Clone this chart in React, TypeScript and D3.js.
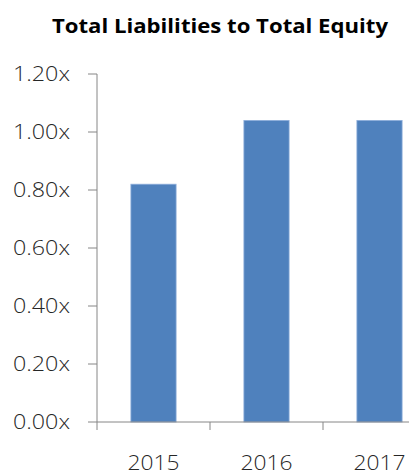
import React from "react";
import * as d3 from "d3";

const years = ["2015", "2016", "2017"];
const ratios = [0.82, 1.04, 1.04];
const yTicks = [0, 0.2, 0.4, 0.6, 0.8, 1.0, 1.2];
const title = "Total Liabilities to Total Equity";

const W = 409;
const H = 475;
const axisX = 97;
const bandW = 113;
const y0 = 422;
const yTop = 74;

export default function App() {
  const x = d3
    .scaleBand<string>()
    .domain(years)
    .range([axisX, axisX + bandW * years.length])
    .paddingInner(0.6)
    .paddingOuter(0.3);
  const y = d3.scaleLinear().domain([0, 1.2]).range([y0, yTop]);
  const fmt = (v: number) => d3.format(".2f")(v) + "x";
  const font = "'Open Sans', 'Liberation Sans', sans-serif";
  const axisColor = "#868686";

  return (
    <svg
      width={W}
      height={H}
      style={{ position: "absolute", left: 0, top: 0, display: "block" }}
      fontFamily={font}
    >
      <rect width={W} height={H} fill="#ffffff" />
      <text
        x={220}
        y={33}
        textAnchor="middle"
        fontSize={19}
        fontWeight="bold"
        fill="#000"
        textLength={336}
        lengthAdjust="spacingAndGlyphs"
      >
        {title}
      </text>

      {/* bars */}
      {years.map((yr, i) => (
        <rect
          key={yr}
          x={x(yr)!}
          y={y(ratios[i])}
          width={x.bandwidth()}
          height={y0 - y(ratios[i])}
          fill="#4F81BD"
          stroke="#8EAEDB"
          strokeWidth={0.8}
        />
      ))}

      {/* y axis */}
      <line x1={axisX} x2={axisX} y1={yTop} y2={y0} stroke={axisColor} strokeWidth={1} />
      {yTicks.map((t) => (
        <g key={t}>
          <line x1={axisX - 9} x2={axisX} y1={y(t)} y2={y(t)} stroke={axisColor} />
          <text
            x={70}
            y={y(t) + 7}
            textAnchor="end"
            fontSize={19.5}
            fontWeight={300}
            fill="#262626"
            textLength={57}
            lengthAdjust="spacingAndGlyphs"
          >
            {fmt(t)}
          </text>
        </g>
      ))}

      {/* x axis */}
      <line x1={axisX} x2={W} y1={y0} y2={y0} stroke={axisColor} />
      {years.map((yr, i) => (
        <line
          key={"t" + yr}
          x1={axisX + bandW * i}
          x2={axisX + bandW * i}
          y1={y0}
          y2={y0 + 8}
          stroke={axisColor}
        />
      ))}
      {years.map((yr) => (
        <text
          key={"l" + yr}
          x={x(yr)! + x.bandwidth() / 2}
          y={470}
          textAnchor="middle"
          fontSize={20}
          fontWeight={300}
          fill="#262626"
          textLength={52}
          lengthAdjust="spacingAndGlyphs"
        >
          {yr}
        </text>
      ))}
    </svg>
  );
}
